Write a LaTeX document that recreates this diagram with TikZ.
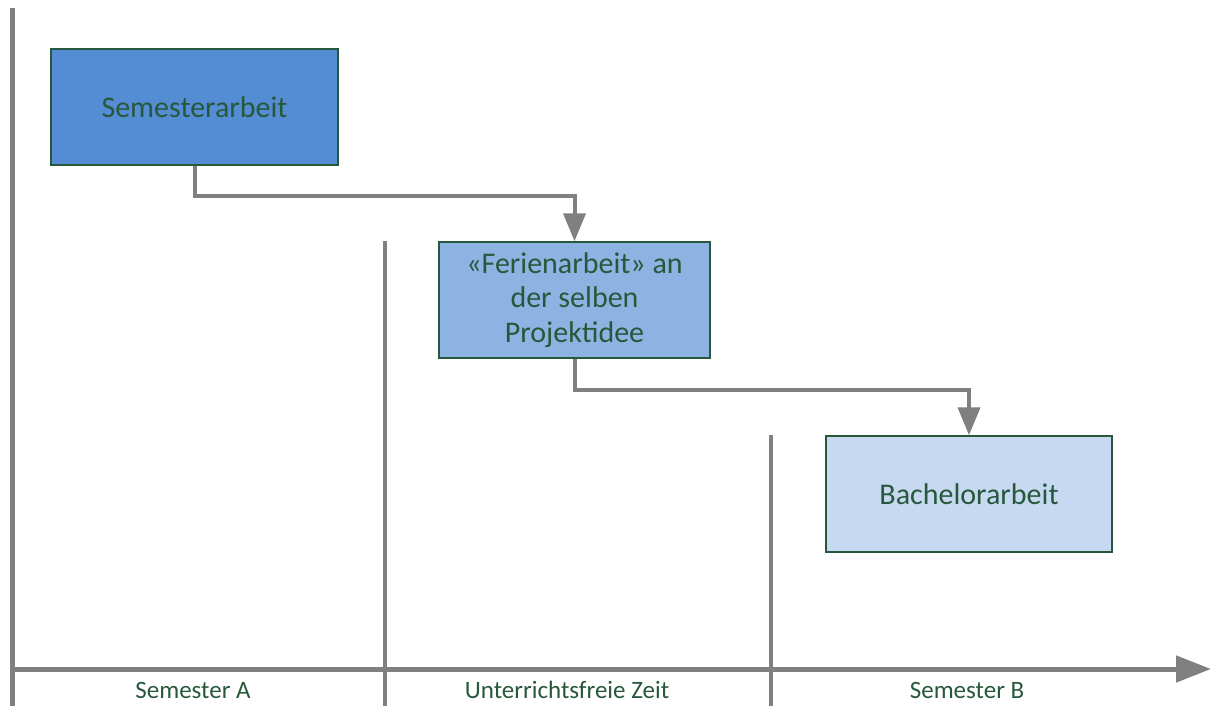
\documentclass[tikz,border=0pt]{standalone}
\usepackage{fontspec}
\setmainfont{Carlito}
\usepackage{tikz}
\usetikzlibrary{arrows.meta}
\usetikzlibrary{positioning}
\definecolor{semA}{RGB}{84,141,212}
\definecolor{ferien}{RGB}{141,179,226}
\definecolor{bachelor}{RGB}{198,217,241}
\definecolor{txtgreen}{RGB}{40,88,60}
\definecolor{axisgray}{RGB}{128,128,128}
\tikzset{
    phase/.style={
           rectangle,
           draw=txtgreen, line width=1.5pt,
           minimum width=287pt,
           minimum height=116pt,
           inner sep=2pt,
           text=txtgreen,
           align=center,
           font=\fontsize{30}{34.5}\selectfont,
           },
    conn/.style={
           draw=axisgray, line width=4pt,
           -{Triangle[length=28pt,width=22pt]},
           },
    period/.style={
           text=txtgreen,
           font=\fontsize{25}{28}\selectfont,
           },
}

\begin{document}
\begin{tikzpicture}[x=1pt,y=-1pt]
        \useasboundingbox (0,0) rectangle (1212,706);

        % time axis and period borders
        \coordinate (T_ORIGIN) at (12,706);
        \coordinate (T_TOP)    at (12,8);
        \coordinate (T_LEFT)   at (12,669);
        \coordinate (T_RIGHT)  at (1211,669);
        \coordinate (B1_TOP)   at (385,241);
        \coordinate (B1_BOT)   at (385,706);
        \coordinate (B2_TOP)   at (771,435);
        \coordinate (B2_BOT)   at (771,706);

        \draw[axisgray, line width=5pt] (T_ORIGIN) -- (T_TOP);
        \draw[axisgray, line width=4pt] (B1_BOT) -- (B1_TOP);
        \draw[axisgray, line width=4pt] (B2_BOT) -- (B2_TOP);
        \draw[axisgray, line width=5pt,
            -{Triangle[length=35pt,width=26pt]}] (T_LEFT) -- (T_RIGHT);

        % period labels below the axis
        \node[period] (P_SEM_A)  at (193,690) {Semester A};
        \node[period] (P_FREE)   at (567,690) {Unterrichtsfreie Zeit};
        \node[period] (P_SEM_B)  at (967,690) {Semester B};

        % STATE Semesterarbeit
        \node[phase, fill=semA] (PH_SEMESTER) at (194.5,107)
        {Semesterarbeit};

        % STATE Ferienarbeit
        \node[phase,
            fill=ferien,
            minimum width=271pt,
            right of=PH_SEMESTER,
            node distance=380pt,
            yshift=-193pt,
            anchor=center] (PH_FERIEN)
        {«Ferienarbeit» an\\der selben\\Projektidee};

        % STATE Bachelorarbeit
        \node[phase,
            fill=bachelor,
            minimum width=286pt,
            right of=PH_FERIEN,
            node distance=394.5pt,
            yshift=-194pt,
            anchor=center] (PH_BACHELOR)
        {Bachelorarbeit};

        % connections between the phases
        \draw[conn] (PH_SEMESTER.south) -- ++(0,30) -| (PH_FERIEN.north);
        \draw[conn] (PH_FERIEN.south) -- ++(0,31) -| (PH_BACHELOR.north);

\end{tikzpicture}
\end{document}
